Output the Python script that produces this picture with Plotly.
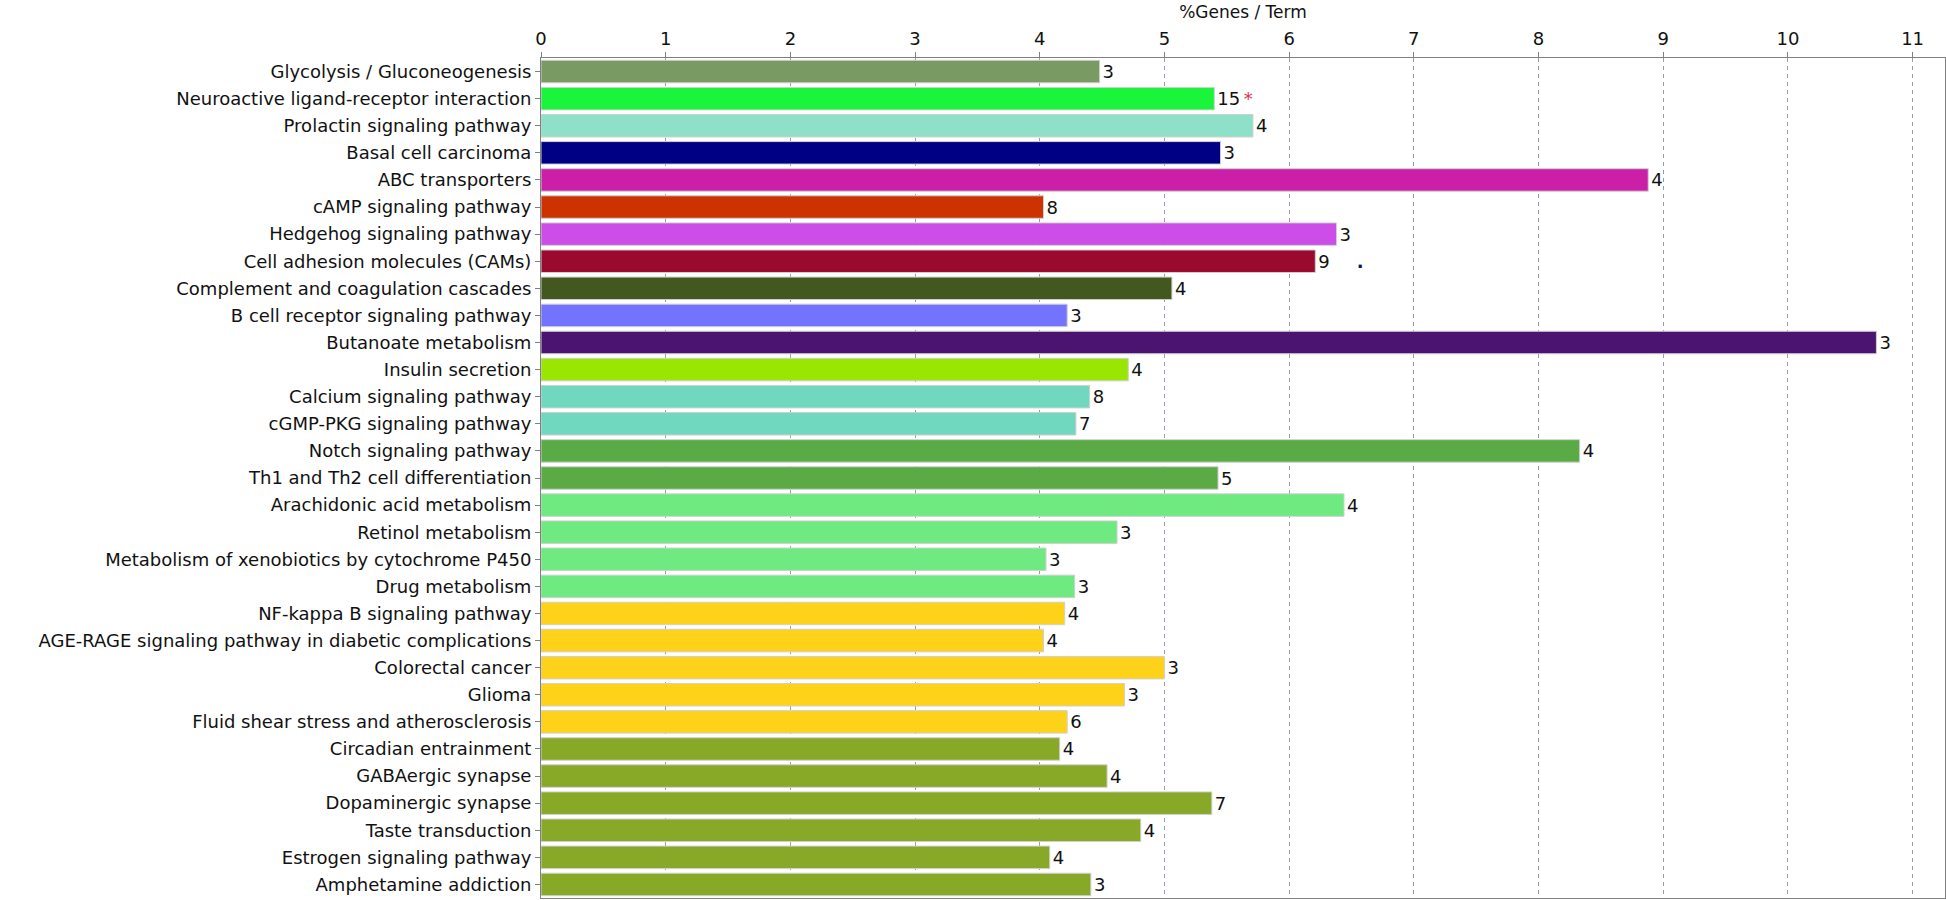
import plotly.graph_objects as go

terms = [
    "Glycolysis / Gluconeogenesis",
    "Neuroactive ligand-receptor interaction",
    "Prolactin signaling pathway",
    "Basal cell carcinoma",
    "ABC transporters",
    "cAMP signaling pathway",
    "Hedgehog signaling pathway",
    "Cell adhesion molecules (CAMs)",
    "Complement and coagulation cascades",
    "B cell receptor signaling pathway",
    "Butanoate metabolism",
    "Insulin secretion",
    "Calcium signaling pathway",
    "cGMP-PKG signaling pathway",
    "Notch signaling pathway",
    "Th1 and Th2 cell differentiation",
    "Arachidonic acid metabolism",
    "Retinol metabolism",
    "Metabolism of xenobiotics by cytochrome P450",
    "Drug metabolism",
    "NF-kappa B signaling pathway",
    "AGE-RAGE signaling pathway in diabetic complications",
    "Colorectal cancer",
    "Glioma",
    "Fluid shear stress and atherosclerosis",
    "Circadian entrainment",
    "GABAergic synapse",
    "Dopaminergic synapse",
    "Taste transduction",
    "Estrogen signaling pathway",
    "Amphetamine addiction",
]

pct_genes = [4.48, 5.40, 5.71, 5.45, 8.88, 4.03, 6.38, 6.21, 5.06, 4.22, 10.71,
             4.71, 4.40, 4.29, 8.33, 5.43, 6.44, 4.62, 4.05, 4.28, 4.20, 4.03,
             5.00, 4.68, 4.22, 4.16, 4.54, 5.38, 4.81, 4.08, 4.41]

gene_counts = [3, 15, 4, 3, 4, 8, 3, 9, 4, 3, 3, 4, 8, 7, 4, 5, 4, 3, 3, 3, 4, 4,
               3, 3, 6, 4, 4, 7, 4, 4, 3]

# significance marks shown after the count
marks = ["", "*", "", "", "", "", "", ".", "", "", "", "", "", "", "", "", "",
         "", "", "", "", "", "", "", "", "", "", "", "", "", ""]

x_ticks = list(range(0, 12))

bar_colors = [
    "#7A9A63", "#1AF53C", "#8EE0C8", "#000085", "#CC1FA8", "#CC3300",
    "#CC4DE8", "#990A2E", "#43581F", "#7373FF", "#4B1470", "#99E600",
    "#6FD8BF", "#6FD8BF", "#5AAA46", "#5AAA46", "#6EEA80", "#6EEA80",
    "#6EEA80", "#6EEA80", "#FFD21A", "#FFD21A", "#FFD21A", "#FFD21A",
    "#FFD21A", "#88A828", "#88A828", "#88A828", "#88A828", "#88A828",
    "#88A828",
]
mark_colors = {"*": "#D9344F", ".": "#101060"}

texts = []
for c, m in zip(gene_counts, marks):
    if m == "*":
        texts.append(f"{c}\u2009<span style='color:{mark_colors[m]}'>*</span>")
    elif m == ".":
        texts.append(f"{c}\u2003\u2002<span style='color:{mark_colors[m]}'><b>.</b></span>")
    else:
        texts.append(str(c))

fig = go.Figure(
    go.Bar(
        x=pct_genes,
        y=terms,
        orientation="h",
        marker=dict(color=bar_colors, line=dict(color="#D0D0D0", width=1)),
        text=texts,
        textposition="outside",
        textfont=dict(family="DejaVu Sans", size=18, color="#111111"),
        cliponaxis=False,
        hoverinfo="x+y",
    )
)

fig.update_layout(
    width=1946,
    height=900,
    margin=dict(l=541, r=1, t=58, b=2),
    paper_bgcolor="white",
    plot_bgcolor="white",
    bargap=0.17,
    showlegend=False,
    font=dict(family="DejaVu Sans", size=18, color="#111111"),
    xaxis=dict(
        side="top",
        range=[0, 11.26],
        tickvals=x_ticks,
        ticktext=[str(t) for t in x_ticks],
        ticks="outside",
        ticklen=5,
        tickcolor="#808080",
        showgrid=True,
        gridcolor="#9A9AB4",
        griddash="4px,4px",
        gridwidth=1,
        showline=True,
        linecolor="#808080",
        linewidth=1,
        mirror=True,
        zeroline=False,
        title=dict(text="%Genes / Term", font=dict(size=17), standoff=4),
        tickfont=dict(size=18),
    ),
    yaxis=dict(
        categoryorder="array",
        categoryarray=terms,
        autorange="reversed",
        ticks="outside",
        ticklen=5,
        tickcolor="#808080",
        showline=True,
        linecolor="#808080",
        linewidth=1,
        mirror=True,
        showgrid=False,
        tickfont=dict(size=18),
    ),
)

fig.write_html("out.html", config={"displayModeBar": False},
               post_script="document.body.style.margin='0';")
